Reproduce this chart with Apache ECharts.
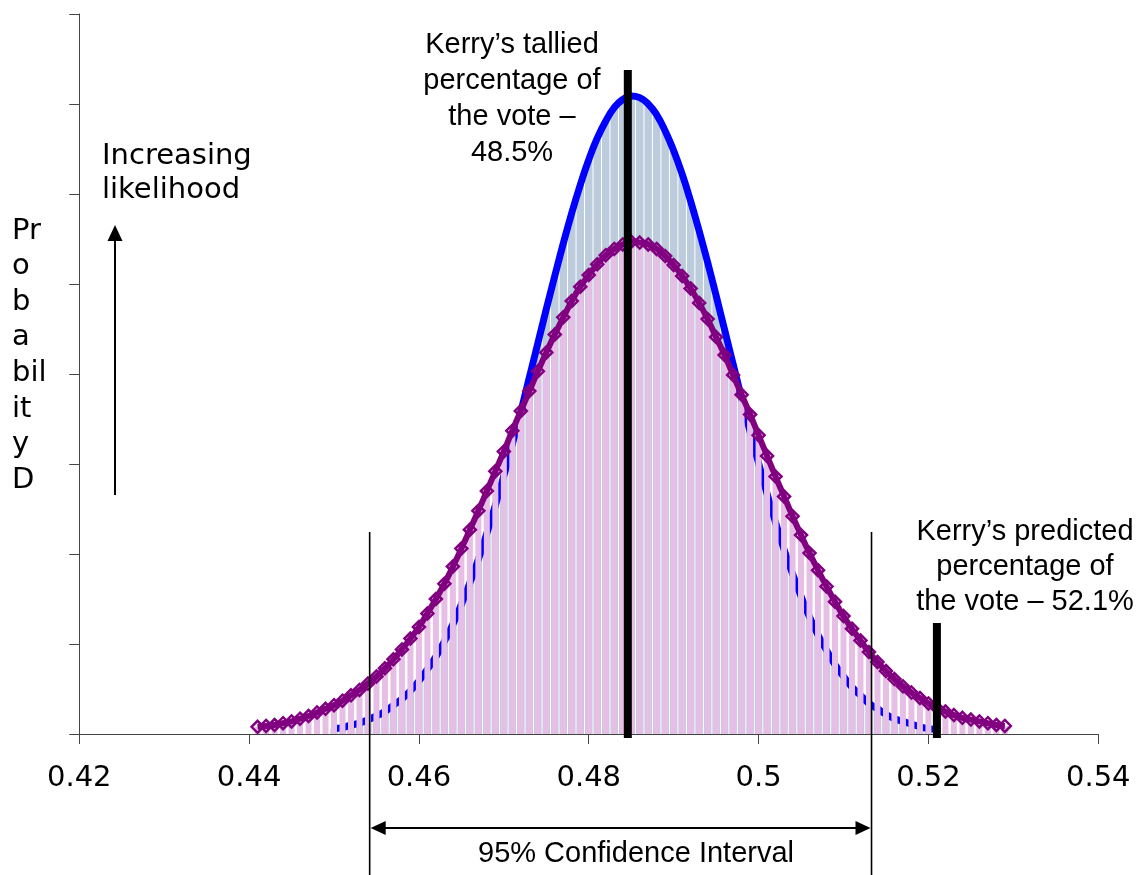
<!DOCTYPE html>
<html><head><meta charset="utf-8">
<script src="https://cdn.jsdelivr.net/npm/echarts@6/dist/echarts.min.js"></script>
<style>html,body{margin:0;padding:0;background:#fff}#c{width:1141px;height:875px}</style>
</head><body><div id="c"></div>
<script>
// Vote share (x) for each simulated bin
const voteShare = [
 0.441,0.442,0.443,0.444,0.445,0.446,0.447,0.448,0.449,0.450,
 0.451,0.452,0.453,0.454,0.455,0.456,0.457,0.458,0.459,0.460,
 0.461,0.462,0.463,0.464,0.465,0.466,0.467,0.468,0.469,0.470,
 0.471,0.472,0.473,0.474,0.475,0.476,0.477,0.478,0.479,0.480,
 0.481,0.482,0.483,0.484,0.485,0.486,0.487,0.488,0.489,0.490,
 0.491,0.492,0.493,0.494,0.495,0.496,0.497,0.498,0.499,0.500,
 0.501,0.502,0.503,0.504,0.505,0.506,0.507,0.508,0.509,0.510,
 0.511,0.512,0.513,0.514,0.515,0.516,0.517,0.518,0.519,0.520,
 0.521,0.522,0.523,0.524,0.525,0.526,0.527,0.528,0.529
];
// Narrow (blue) probability density, in y-axis tick units
const narrowDensity = [
 null,null,null,null,null,null,null,null,null,0.06,
 0.07,0.10,0.12,0.16,0.20,0.25,0.32,0.39,0.48,0.59,
 0.72,0.86,1.03,1.22,1.44,1.68,1.94,2.23,2.54,2.87,
 3.22,3.58,3.96,4.34,4.72,5.09,5.45,5.79,6.10,6.38,
 6.62,6.81,6.96,7.05,7.09,7.07,7.00,6.88,6.70,6.48,
 6.22,5.92,5.59,5.24,4.87,4.49,4.11,3.73,3.36,3.01,
 2.67,2.35,2.05,1.78,1.53,1.30,1.10,0.93,0.77,0.64,
 0.52,0.43,0.34,0.28,0.22,0.17,0.14,0.11,0.08,0.06,
 0.05,null,null,null,null,null,null,null,null
];
// Wide (purple) probability density, in y-axis tick units
const wideDensity = [
 0.08,0.09,0.10,0.12,0.14,0.17,0.20,0.24,0.28,0.32,
 0.37,0.43,0.49,0.56,0.64,0.73,0.83,0.94,1.06,1.19,
 1.34,1.50,1.67,1.86,2.06,2.27,2.48,2.70,2.92,3.14,
 3.37,3.59,3.81,4.03,4.24,4.44,4.63,4.81,4.97,5.10,
 5.22,5.32,5.39,5.44,5.47,5.46,5.44,5.39,5.31,5.21,
 5.09,4.95,4.79,4.61,4.41,4.21,3.99,3.77,3.55,3.32,
 3.09,2.86,2.64,2.42,2.21,2.01,1.82,1.64,1.47,1.31,
 1.17,1.04,0.91,0.80,0.70,0.61,0.53,0.46,0.40,0.34,
 0.29,0.25,0.21,0.18,0.16,0.14,0.12,0.10,0.09
];
const talliedShare = 0.4846;
const predictedShare = 0.521;
const ciLow = 0.4542;
const ciHigh = 0.5133;
const xMin = 0.42, xMax = 0.54, xStep = 0.02;
const yMin = 0, yMax = 8, yStep = 1;

const talliedText = ["Kerry\u2019s tallied", "percentage of", "the vote \u2013", "48.5%"];
const predictedText = ["Kerry\u2019s predicted", "percentage of", "the vote \u2013 52.1%"];
const likelihoodText = ["Increasing", "likelihood"];
const yTitleText = ["Pr", "o", "b", "a", "bil", "it", "y", "D"];
const ciText = "95% Confidence Interval";

const pairs = ys => voteShare.map((x, i) => [x, ys[i]]);
const chart = echarts.init(document.getElementById('c'), null, {renderer: 'canvas'});
const axisColor = '#444';
chart.setOption({
  animation: false,
  backgroundColor: '#fff',
  grid: {left: 79.25, right: 42.75, top: 14, bottom: 141},
  xAxis: [
    {type: 'value', min: xMin, max: xMax, interval: xStep,
     axisLine: {onZero: false, lineStyle: {color: axisColor, width: 1}},
     axisTick: {length: 10, lineStyle: {color: axisColor}},
     axisLabel: {fontFamily: 'DejaVu Sans', fontSize: 29, color: '#000', margin: 30},
     splitLine: {show: false}},
    {type: 'value', min: xMin, max: xMax, show: false}
  ],
  yAxis: {type: 'value', min: yMin, max: yMax, interval: yStep,
    axisLine: {show: true, lineStyle: {color: axisColor, width: 1}},
    axisTick: {show: true, length: 10, lineStyle: {color: axisColor}},
    axisLabel: {show: false}, splitLine: {show: false}},
  series: [
    {type: 'bar', xAxisIndex: 1, data: pairs(narrowDensity), barWidth: 7.5,
     itemStyle: {color: '#BCCCDC'}, z: 1},
    {type: 'line', xAxisIndex: 0, data: pairs(narrowDensity), symbol: 'none', smooth: true,
     lineStyle: {color: '#0000FF', width: 7}, z: 2},
    {type: 'bar', xAxisIndex: 0, data: pairs(wideDensity), barWidth: 6,
     itemStyle: {color: '#E6BEE6'}, z: 3},
    {type: 'line', xAxisIndex: 0, data: pairs(wideDensity), symbol: 'diamond', symbolSize: 12, smooth: true,
     itemStyle: {color: 'rgba(0,0,0,0)', borderColor: '#800080', borderWidth: 2.5},
     lineStyle: {color: '#800080', width: 6}, z: 4}
  ]
});

const X = v => chart.convertToPixel({xAxisIndex: 0}, v);
const g = [];
const arial = 'Liberation Sans, Arial, sans-serif';
const verdana = 'DejaVu Sans, Verdana, sans-serif';
function txt(t, x, y, fam, align, size) {
  g.push({type: 'text', x: x, y: y, z: 200,
    style: {text: t, fontSize: size || 29, fontFamily: fam, fill: '#000',
            textAlign: align || 'center', textVerticalAlign: 'middle'}});
}
function vline(v, y1, y2, w) {
  const px = X(v);
  g.push({type: 'line', z: 150, shape: {x1: px, y1: y1, x2: px, y2: y2},
          style: {stroke: '#000', lineWidth: w}});
}
vline(talliedShare, 70, 738, 8);
vline(predictedShare, 623, 738, 8);
vline(ciLow, 532, 875, 1.6);
vline(ciHigh, 532, 875, 1.6);
// horizontal double arrow
const a = X(ciLow), b = X(ciHigh), ay = 828;
g.push({type: 'line', z: 150, shape: {x1: a + 8, y1: ay, x2: b - 8, y2: ay}, style: {stroke: '#000', lineWidth: 2}});
g.push({type: 'polygon', z: 150, shape: {points: [[a + 1, ay], [a + 16, ay - 7], [a + 16, ay + 7]]}, style: {fill: '#000'}});
g.push({type: 'polygon', z: 150, shape: {points: [[b - 1, ay], [b - 16, ay - 7], [b - 16, ay + 7]]}, style: {fill: '#000'}});
// vertical likelihood arrow
g.push({type: 'line', z: 150, shape: {x1: 115, y1: 495, x2: 115, y2: 236}, style: {stroke: '#000', lineWidth: 2}});
g.push({type: 'polygon', z: 150, shape: {points: [[115, 225], [107.5, 241], [122.5, 241]]}, style: {fill: '#000'}});

talliedText.forEach((t, i) => txt(t, 512, 45 + i * 36, arial));
predictedText.forEach((t, i) => txt(t, 1025, 532 + i * 35, arial));
likelihoodText.forEach((t, i) => txt(t, 102, 156 + i * 34, verdana, 'left'));
yTitleText.forEach((t, i) => txt(t, 12, 231 + i * 35.6, verdana, 'left'));
txt(ciText, 636, 854, arial);

chart.setOption({graphic: {elements: g}});
</script>
</body></html>
